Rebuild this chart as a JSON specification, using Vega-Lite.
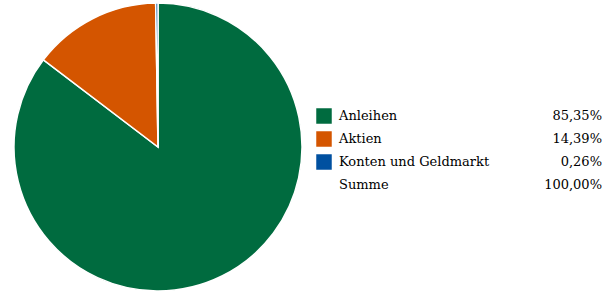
{
  "$schema": "https://vega.github.io/schema/vega-lite/v6.json",
  "padding": 0,
  "spacing": 0,
  "background": "white",
  "config": {"view": {"stroke": null}},
  "datasets": {
    "rows": [
      {"name": "Anleihen", "value": 85.35, "label": "85,35%", "rank": 1},
      {"name": "Aktien", "value": 14.39, "label": "14,39%", "rank": 2},
      {"name": "Konten und Geldmarkt", "value": 0.26, "label": "0,26%", "rank": 3},
      {"name": "Summe", "value": 100, "label": "100,00%", "rank": 4}
    ]
  },
  "hconcat": [
    {
      "width": 316,
      "height": 294,
      "data": {"name": "rows"},
      "transform": [{"filter": "datum.name !== 'Summe'"}],
      "mark": {"type": "arc", "outerRadius": 144, "stroke": "white", "strokeWidth": 1.5},
      "encoding": {
        "theta": {"field": "value", "type": "quantitative", "stack": true},
        "order": {"field": "rank", "type": "quantitative"},
        "color": {
          "field": "name",
          "type": "nominal",
          "scale": {"domain": ["Anleihen", "Aktien", "Konten und Geldmarkt"], "range": ["#006B3F", "#D45500", "#0050A0"]},
          "legend": null
        }
      }
    },
    {
      "width": 296,
      "height": 294,
      "data": {"name": "rows"},
      "encoding": {
        "y": {"field": "name", "type": "nominal", "sort": {"field": "rank"}, "scale": {"type": "point", "padding": 0, "range": [116, 185]}, "axis": null}
      },
      "layer": [
        {
          "transform": [{"filter": "datum.name !== 'Summe'"}],
          "mark": {"type": "square", "size": 240, "opacity": 1, "filled": true},
          "encoding": {
            "x": {"value": 7},
            "color": {
              "field": "name",
              "type": "nominal",
              "scale": {"domain": ["Anleihen", "Aktien", "Konten und Geldmarkt"], "range": ["#006B3F", "#D45500", "#0050A0"]},
              "legend": null
            }
          }
        },
        {
          "mark": {"type": "text", "align": "left", "baseline": "middle", "fontSize": 13, "font": "DejaVu Serif", "color": "#000"},
          "encoding": {"x": {"value": 22}, "text": {"field": "name"}}
        },
        {
          "mark": {"type": "text", "align": "right", "baseline": "middle", "fontSize": 13, "font": "DejaVu Serif", "color": "#000"},
          "encoding": {"x": {"value": 285}, "text": {"field": "label"}}
        }
      ]
    }
  ]
}
